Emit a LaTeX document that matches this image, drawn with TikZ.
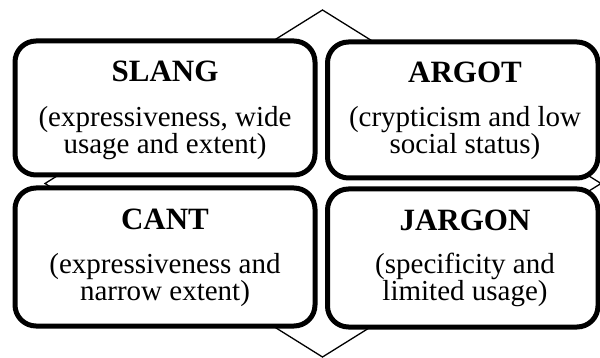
\documentclass[tikz,border=0pt]{standalone}
\usepackage{fontspec}
\setmainfont{Liberation Serif}
\begin{document}
\begin{tikzpicture}[x=1pt,y=-1pt,
  quad/.style={draw=black, line width=5pt, rounded corners=21pt, fill=white, inner sep=0pt, outer sep=0pt},
  thinline/.style={draw=black, line width=1.3pt, line join=miter},
  ttl/.style={inner sep=0pt, anchor=base, font=\fontsize{31}{31}\selectfont\bfseries},
  bdy/.style={inner sep=0pt, anchor=base, font=\fontsize{29}{27}\selectfont}
]
\useasboundingbox (0,0) rectangle (600,358);
% background diamond
\coordinate (dt) at (322.5,10);
\coordinate (dr) at (601,183.5);
\coordinate (db) at (322.5,357);
\coordinate (dl) at (45,183.5);
\draw[thinline] (dt) -- (dr) -- (db) -- (dl) -- cycle;
% boxes
\node[quad, minimum width=300pt, minimum height=134pt] (tl) at (165,108) {};
\node[quad, minimum width=270.5pt, minimum height=136pt] (tr) at (462.75,110) {};
\node[quad, minimum width=300pt, minimum height=138pt] (bl) at (165,257) {};
\node[quad, minimum width=270.5pt, minimum height=138pt] (br) at (462.75,258) {};
% texts
\node[ttl] (tlt) at (165,82) {SLANG};
\node[bdy] (tla) at (165,127) {(expressiveness, wide};
\node[bdy] (tlb) at (165,154) {usage and extent)};
\node[ttl] (trt) at (465,82.5) {ARGOT};
\node[bdy] (tra) at (465,127) {(crypticism and low};
\node[bdy] (trb) at (465,154) {social status)};
\node[ttl] (blt) at (165,230) {CANT};
\node[bdy] (bla) at (165,273) {(expressiveness and};
\node[bdy] (blb) at (165,300) {narrow extent)};
\node[ttl] (brt) at (465,231) {JARGON};
\node[bdy] (bra) at (465,273) {(specificity and};
\node[bdy] (brb) at (465,300) {limited usage)};
\end{tikzpicture}
\end{document}
